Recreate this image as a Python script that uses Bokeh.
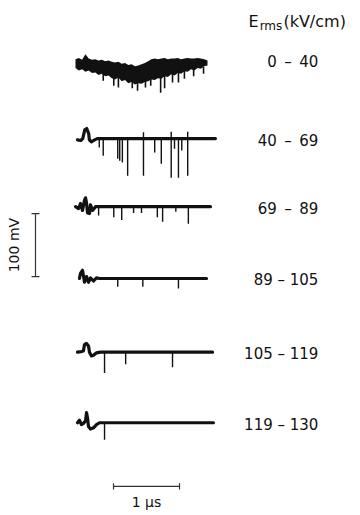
import math
from bokeh.plotting import figure
from bokeh.models import Range1d, Label
from bokeh.embed import file_html
from bokeh.resources import INLINE
from bokeh.core.properties import value

FONT = "DejaVu Sans"
INK = "#111111"

# ---------------- data (time in microseconds, signal in mV) ----------------
field_ranges = ["0\u2002\u2013\u200240", "40\u2002\u2013\u200269", "69\u2002\u2013\u200289",
                "89 \u2013 105", "105 \u2013 119", "119 \u2013 130"]

# trace 1 (0-40 kV/cm): dense noise band, upper / lower envelope every 0.05 us
t1_time = [round(0.05 * i, 2) for i in range(41)]
t1_upper = [2, 4, 1, 10, 3, 1, 2, 0, 1, -1, 0, -2, -3, -2, -5, -4, -7, -6, -9, -8, -6,
            -4, -1, 2, 3, 2, 3, 4, 2, 3, 3, 4, 2, 3, 4, 3, 3, 4, 3, 2, 0]
t1_lower = [-12, -16, -14, -18, -16, -20, -19, -23, -21, -25, -24, -28, -30, -27, -33, -31,
            -36, -34, -38, -36, -37, -34, -33, -30, -31, -28, -29, -25, -26, -22, -24, -20,
            -21, -17, -18, -14, -16, -12, -13, -9, -8]
t1_spike_t = [0.42, 0.58, 0.65, 0.86, 0.94, 1.06, 1.14, 1.29, 1.35, 1.47, 1.56, 1.65, 1.79, 1.94]
t1_spike_mv = [-32, -40, -43, -44, -48, -43, -40, -51, -44, -35, -35, -29, -25, -21]

# traces 2-6: start-up ringing + flat baseline, then discharge pulses
t2_time = [0.03, 0.08, 0.11, 0.14, 0.17, 0.20, 0.21, 0.24, 0.29, 0.33, 2.12]
t2_mv = [-2, -3, 0, 14, 16, 8, -2, -5, -2, 0, 0]
t2_spike_t = [0.36, 0.42, 0.64, 0.67, 0.71, 0.79, 1.03, 1.20, 1.30, 1.45, 1.50, 1.56, 1.61, 1.70,
              1.03, 1.45, 1.70]
t2_spike_mv = [-14, -27, -32, -35, -38, -59, -59, -22, -40, -62, -16, -62, -19, -59,
               10, 11, 11]

t3_time = [0.0, 0.045, 0.076, 0.106, 0.136, 0.152, 0.167, 0.182, 0.212, 0.227, 0.258, 0.303, 2.045]
t3_mv = [0, -3, 5, -6, 10, 14, 6, -10, -11, 3, -6, 0, 0]
t3_spike_t = [0.35, 0.58, 0.70, 0.88, 1.00, 1.24, 1.32, 1.52, 1.71]
t3_spike_mv = [-14, -17, -21, -10, -10, -17, -24, -8, -27]

t4_time = [0.06, 0.076, 0.106, 0.121, 0.136, 0.167, 0.197, 0.227, 0.273, 0.318, 0.364, 1.985]
t4_mv = [0, 8, 13, 4, -6, 3, -6, 1, -4, 1, 0, 0]
t4_spike_t = [0.64, 1.02, 1.56]
t4_spike_mv = [-13, -13, -16]

t5_time = [0.03, 0.09, 0.12, 0.136, 0.167, 0.197, 0.212, 0.242, 0.273, 0.318, 0.379, 2.076]
t5_mv = [0, 1, 2, 12, 14, 10, 0, -6, -5, -1, 0, 0]
t5_spike_t = [0.44, 0.76, 1.47]
t5_spike_mv = [-33, -19, -24]

t6_time = [0.03, 0.06, 0.09, 0.12, 0.152, 0.167, 0.182, 0.197, 0.227, 0.273, 0.318, 0.364, 2.09]
t6_mv = [0, 4, -3, -1, 3, 16, 8, -6, -10, -8, -3, 0, 0]
t6_spike_t = [0.44]
t6_spike_mv = [-27]

scale_mv = 100      # vertical calibration bar
scale_us = 1        # horizontal calibration bar

# ---------------- layout ----------------
PX_PER_US = 66.0
PX_PER_MV = 0.63
W, H = 360, 515
x_start = -75.0 / PX_PER_US
y_top = 60.0 / PX_PER_MV
trace_offset = [0, -124, -232, -346, -463, -575]

p = figure(width=W, height=H, output_backend="svg", toolbar_location=None,
           x_range=Range1d(x_start, x_start + W / PX_PER_US),
           y_range=Range1d(y_top - H / PX_PER_MV, y_top),
           x_axis_type=None, y_axis_type=None, min_border=0)
p.outline_line_color = None
p.background_fill_color = "white"
p.border_fill_color = "white"

# trace 1
p.varea(x=t1_time, y1=[v + trace_offset[0] for v in t1_lower],
        y2=[v + trace_offset[0] for v in t1_upper], fill_color=INK)
p.segment(x0=t1_spike_t, y0=[trace_offset[0] - 10] * len(t1_spike_t),
          x1=t1_spike_t, y1=[v + trace_offset[0] for v in t1_spike_mv],
          line_color=INK, line_width=1.6)

traces = [(t2_time, t2_mv, t2_spike_t, t2_spike_mv),
          (t3_time, t3_mv, t3_spike_t, t3_spike_mv),
          (t4_time, t4_mv, t4_spike_t, t4_spike_mv),
          (t5_time, t5_mv, t5_spike_t, t5_spike_mv),
          (t6_time, t6_mv, t6_spike_t, t6_spike_mv)]
for k, (tt, mv, st, smv) in enumerate(traces, start=1):
    off = trace_offset[k]
    p.line(x=tt, y=[v + off for v in mv], line_color=INK, line_width=3.2,
           line_join="round", line_cap="round")
    p.segment(x0=st, y0=[off] * len(st), x1=st, y1=[v + off for v in smv],
              line_color=INK, line_width=1.4)

# field range labels
p.text(x=[3.68] * 6, y=[o - 3 for o in trace_offset], text=field_ranges,
       text_font=value(FONT), text_font_size="15px", text_align="right",
       text_baseline="middle", text_color=INK)

# header E_rms (kV/cm)
p.add_layout(Label(x=2.62, y=62, text="E", text_font=FONT, text_font_size="16px",
                   text_color=INK, text_baseline="alphabetic"))
p.add_layout(Label(x=2.79, y=55, text="rms", text_font=FONT, text_font_size="12px",
                   text_color=INK, text_baseline="alphabetic"))
p.add_layout(Label(x=3.15, y=62, text="(kV/cm)", text_font=FONT, text_font_size="16px",
                   text_color=INK, text_baseline="alphabetic"))

# vertical 100 mV bar
vx, vtop = -0.606, -243
tick_dx = 0.06
p.segment(x0=[vx, vx - tick_dx, vx - tick_dx], y0=[vtop, vtop, vtop - scale_mv],
          x1=[vx, vx + tick_dx, vx + tick_dx], y1=[vtop - scale_mv, vtop, vtop - scale_mv],
          line_color="#333333", line_width=1.2)
p.text(x=[-0.93], y=[vtop - scale_mv / 2], text=["100 mV"], angle=math.pi / 2,
       text_font=value(FONT), text_font_size="14px", text_align="center",
       text_baseline="middle", text_color=INK)

# horizontal 1 us bar
hx, hy = 0.576, -676
tick_dy = 5
p.segment(x0=[hx, hx, hx + scale_us], y0=[hy, hy - tick_dy, hy - tick_dy],
          x1=[hx + scale_us, hx, hx + scale_us], y1=[hy, hy + tick_dy, hy + tick_dy],
          line_color="#333333", line_width=1.2)
p.text(x=[hx + scale_us / 2], y=[-700], text=["1 \u03bcs"],
       text_font=value(FONT), text_font_size="14px", text_align="center",
       text_baseline="middle", text_color=INK)

open("out.html", "w").write(file_html(p, INLINE))
